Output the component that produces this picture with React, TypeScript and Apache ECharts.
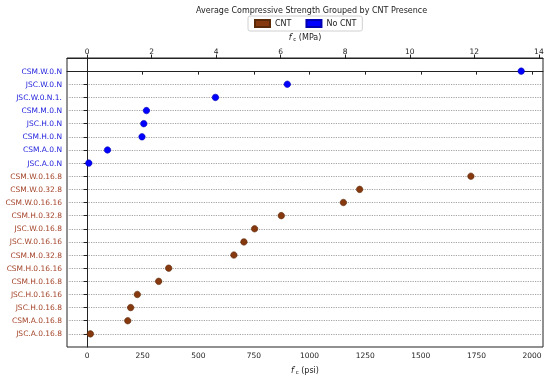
import React, { useEffect, useRef } from "react";
import * as echarts from "echarts";

const noCntCats = ["CSM.W.0.N", "JSC.W.0.N", "JSC.W.0.N.1.", "CSM.M.0.N", "JSC.H.0.N", "CSM.H.0.N", "CSM.A.0.N", "JSC.A.0.N"];
const noCntVals = [1951, 900, 577, 267, 255, 247, 92, 8];
const cntCats = ["CSM.W.0.16.8", "CSM.W.0.32.8", "CSM.W.0.16.16", "CSM.H.0.32.8", "JSC.W.0.16.8", "JSC.W.0.16.16", "CSM.M.0.32.8", "CSM.H.0.16.16", "CSM.H.0.16.8", "JSC.H.0.16.16", "JSC.H.0.16.8", "CSM.A.0.16.8", "JSC.A.0.16.8"];
const cntVals = [1725, 1225, 1152, 873, 753, 705, 660, 367, 322, 226, 196, 183, 15];
const psiTicks = [0, 250, 500, 750, 1000, 1250, 1500, 1750, 2000];
const mpaTicks = [0, 2, 4, 6, 8, 10, 12, 14];
const PSI_PER_MPA = 145.038;

const categories = [...noCntCats, ...cntCats];

export default function App() {
  const ref = useRef<HTMLDivElement>(null);
  useEffect(() => {
    if (!ref.current) return;
    const chart = echarts.init(ref.current, null, { renderer: "svg" });
    const font = "DejaVu Sans";
    const blue = "#2424dc";
    const brown = "#a4442a";
    const xMin = -90;
    const xMax = 2049;
    const rowIdx = categories.map((_, i) => i);
    const nameRich = {
      f: { fontStyle: "italic", fontSize: 8, fontFamily: font, color: "#222" },
      s: { fontSize: 5.5, fontFamily: font, color: "#222", padding: [4, 0, 0, 0] },
      t: { fontSize: 8, fontFamily: font, color: "#222" },
    };
    chart.setOption({
      animation: false,
      textStyle: { fontFamily: font },
      title: {
        text: "Average Compressive Strength Grouped by CNT Presence",
        left: 191,
        top: 1,
        textStyle: { fontSize: 8, fontWeight: "normal", color: "#222", fontFamily: font },
      },
      legend: {
        top: 16,
        left: 248,
        icon: "rect",
        itemWidth: 15,
        itemHeight: 7,
        itemGap: 14,
        padding: [3, 6],
        borderColor: "#d0d0d0",
        borderWidth: 1,
        borderRadius: 2,
        textStyle: { fontSize: 8, color: "#222", fontFamily: font },
        data: ["CNT", "No CNT"],
      },
      grid: {
        left: 67,
        right: 7,
        top: 58,
        bottom: 29,
        show: true,
        borderColor: "#222",
        borderWidth: 1,
      },
      xAxis: [
        {
          type: "value",
          position: "bottom",
          min: xMin,
          max: xMax,
          name: "{f|f′}{s|c}{t| (psi)}",
          nameLocation: "middle",
          nameGap: 18,
          nameTextStyle: { rich: nameRich },
          axisLine: { show: true, lineStyle: { color: "#222" } },
          axisTick: { show: true, customValues: psiTicks, length: 3.5, lineStyle: { color: "#222" } },
          axisLabel: {
            customValues: psiTicks,
            formatter: (v: number) => String(Math.round(v)),
            fontSize: 7.5,
            color: "#222",
            margin: 4,
            fontFamily: font,
          },
          splitLine: { show: false },
        },
        {
          type: "value",
          position: "top",
          min: xMin / PSI_PER_MPA,
          max: xMax / PSI_PER_MPA,
          name: "{f|f′}{s|c}{t| (MPa)}",
          nameLocation: "middle",
          nameGap: 16,
          nameTextStyle: { rich: nameRich },
          axisLine: { show: true, lineStyle: { color: "#222" } },
          axisTick: { show: true, customValues: mpaTicks, length: 3.5, lineStyle: { color: "#222" } },
          axisLabel: {
            customValues: mpaTicks,
            formatter: (v: number) => String(Math.round(v)),
            fontSize: 7.5,
            color: "#222",
            margin: 3,
            fontFamily: font,
          },
          splitLine: { show: false },
        },
      ],
      yAxis: {
        type: "value",
        inverse: true,
        min: -1,
        max: 21,
        interval: 1,
        axisLine: { show: true, lineStyle: { color: "#222" } },
        axisTick: { show: true, customValues: rowIdx, length: 3.5, lineStyle: { color: "#222" } },
        axisLabel: {
          customValues: rowIdx,
          margin: 5,
          formatter: (v: number) => {
            const i = Math.round(v);
            if (i < 0 || i >= categories.length) return "";
            return `{${i < noCntCats.length ? "a" : "b"}|${categories[i]}}`;
          },
          rich: {
            a: { color: blue, fontSize: 7.5, fontFamily: font },
            b: { color: brown, fontSize: 7.5, fontFamily: font },
          },
        },
        splitLine: { show: true, lineStyle: { color: "#8c8c8c", type: [1.2, 1.2], width: 0.8 } },
      },
      series: [
        {
          name: "CNT",
          type: "scatter",
          xAxisIndex: 0,
          symbolSize: 6.5,
          itemStyle: { color: "#86380f", borderColor: "#5a2a08", borderWidth: 0.6, opacity: 1 },
          data: cntVals.map((v, i) => [v, noCntCats.length + i]),
          z: 3,
        },
        {
          name: "No CNT",
          type: "scatter",
          xAxisIndex: 0,
          symbolSize: 6.5,
          itemStyle: { color: "#0000ff", borderColor: "#0000b0", borderWidth: 0.6, opacity: 1 },
          data: noCntVals.map((v, i) => [v, i]),
          z: 3,
        },
      ],
    });
    return () => chart.dispose();
  }, []);
  return <div ref={ref} style={{ position: "fixed", left: 0, top: 0, width: 550, height: 380 }} />;
}
